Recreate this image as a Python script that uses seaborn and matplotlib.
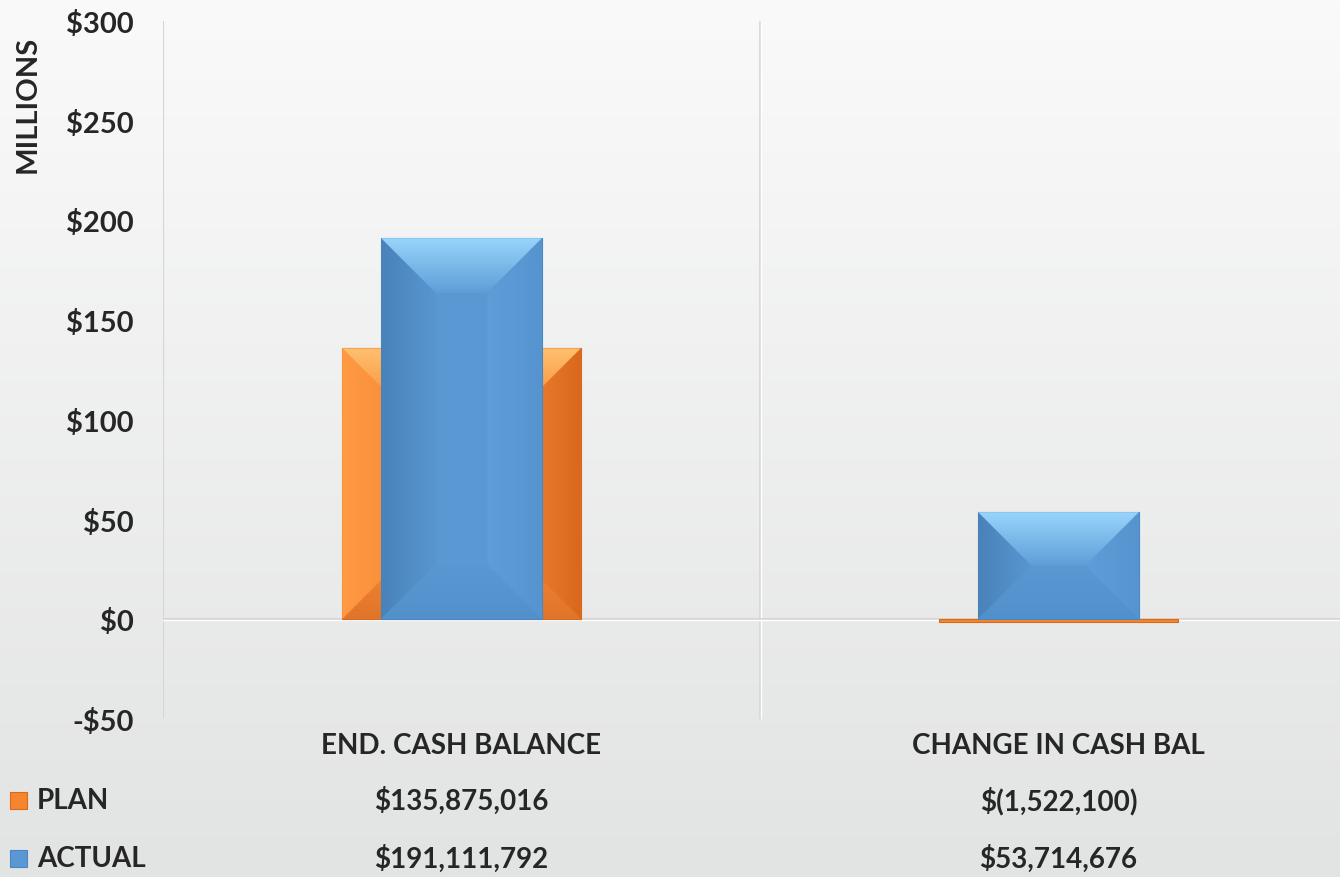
import matplotlib
matplotlib.use("Agg")
import matplotlib.pyplot as plt
import seaborn as sns
import numpy as np
import pandas as pd
from matplotlib.patches import Polygon, Rectangle
from matplotlib.colors import LinearSegmentedColormap
from matplotlib.ticker import FuncFormatter, MultipleLocator
import matplotlib.transforms as mtransforms

categories = ["END. CASH BALANCE", "CHANGE IN CASH BAL"]
plan = [135875016, -1522100]
actual = [191111792, 53714676]
series_names = ["PLAN", "ACTUAL"]

orange = "#F5862F"
blue = "#5A98D3"

sns.set_theme(style="white")
plt.rcParams["font.family"] = ["Lato", "DejaVu Sans"]
plt.rcParams["font.weight"] = "bold"

fig = plt.figure(figsize=(13.4, 8.78), dpi=100)

# background gradient
bg = fig.add_axes([0, 0, 1, 1], zorder=-10)
grad = np.linspace(0, 1, 256).reshape(-1, 1)
bg.imshow(grad, aspect="auto", cmap=LinearSegmentedColormap.from_list(
    "bg", ["#fafafa", "#e2e3e3"]), extent=[0, 1, 0, 1], origin="upper")
bg.axis("off")

ax = fig.add_axes([163 / 1340, 1 - 720 / 878, 1 - 163 / 1340, 698 / 878])
ax.patch.set_alpha(0)

df = pd.DataFrame({"cat": categories,
                   "plan": np.array(plan) / 1e6,
                   "actual": np.array(actual) / 1e6})

sns.barplot(data=df, x="cat", y="plan", color=orange, width=0.40, ax=ax,
            saturation=1, zorder=2)
n_plan = len(ax.patches)
sns.barplot(data=df, x="cat", y="actual", color=blue, width=0.27, ax=ax,
            saturation=1, zorder=3)

ylim = (-50, 300)
xlim = (-0.5, -0.5 + (1340 - 163) / 597)
ax.set_ylim(*ylim)
ax.set_xlim(*xlim)
ax.yaxis.set_major_locator(MultipleLocator(50))
ax.yaxis.set_major_formatter(FuncFormatter(
    lambda v, p: f"-${-v:,.0f}" if v < 0 else f"${v:,.0f}"))
ax.tick_params(axis="y", labelsize=21, pad=21, length=0)
for t in ax.get_yticklabels():
    t.set_fontweight("bold")
ax.set_xticks([])
ax.set_xlabel("")
ax.set_ylabel("")
for s in ax.spines.values():
    s.set_visible(False)

# gridlines: left axis, category separator, zero line
ax.axvline(-0.5, color="#d6d6d6", lw=1.6, zorder=1)
ax.axvline(0.5, color="#d6d6d6", lw=1.2, zorder=1)
ax.axvline(0.5 + 0.002, color="white", lw=1.0, zorder=1)
ax.axhline(0, color="#d2d2d2", lw=1.2, zorder=1)
ax.axhline(-0.6, color="white", lw=1.0, zorder=1)

fig.text(28 / 1340, 1 - 104 / 878, "MILLIONS", rotation=90, ha="center", va="center",
         fontsize=21, fontweight="bold")

# bevel effect on each bar (gradient faces clipped to trapezoids)
fig.canvas.draw()
inv = ax.transData.inverted()
shades = {
    orange: dict(top=("#FFC070", "#F8903A"), left=("#FF9A45", "#F98C36"),
                 right=("#D9681C", "#EE8030"), bottom=("#E0742A", "#F28633"), edge="#D86A1C"),
    blue: dict(top=("#98D4FA", "#5E9ED8"), left=("#4A82BA", "#5896D0"),
               right=("#5594CF", "#5E9DD8"), bottom=("#5290CB", "#5A98D3"), edge="#4A86C4"),
}
hgrad = np.linspace(0, 1, 128).reshape(1, -1)
vgrad = np.linspace(0, 1, 128).reshape(-1, 1)
for i, p in enumerate(ax.patches[:]):
    col = orange if i < n_plan else blue
    z = 2.1 if i < n_plan else 3.1
    x0, y0 = p.get_x(), p.get_y()
    w, h = p.get_width(), p.get_height()
    (L, B), (R, T) = ax.transData.transform([(x0, min(y0, y0 + h)), (x0 + w, max(y0, y0 + h))])
    hp, wp = T - B, R - L
    p.set_edgecolor(shades[col]["edge"])
    p.set_linewidth(0.8)
    if hp < 6:
        continue
    b = min(55, wp / 2, hp / 2)
    faces = {
        "top": ([(L, T), (R, T), (R - b, T - b), (L + b, T - b)], (L, R, T - b, T), vgrad, False),
        "left": ([(L, T), (L + b, T - b), (L + b, B + b), (L, B)], (L, L + b, B, T), hgrad, False),
        "right": ([(R, T), (R, B), (R - b, B + b), (R - b, T - b)], (R - b, R, B, T), hgrad, True),
        "bottom": ([(L, B), (R, B), (R - b, B + b), (L + b, B + b)], (L, R, B, B + b), vgrad, True),
    }
    for k, (pts, (ex0, ex1, ey0, ey1), g, flip) in faces.items():
        c_edge, c_inner = shades[col][k]
        poly = Polygon(inv.transform(pts), closed=True, facecolor="none",
                       edgecolor="none", zorder=z)
        ax.add_patch(poly)
        (dx0, dy0), (dx1, dy1) = inv.transform([(ex0, ey0), (ex1, ey1)])
        cmap = LinearSegmentedColormap.from_list("f", [c_inner, c_edge] if flip else [c_edge, c_inner])
        im = ax.imshow(g, cmap=cmap, extent=[dx0, dx1, dy0, dy1], origin="upper",
                       aspect="auto", zorder=z, interpolation="bilinear")
        im.set_clip_path(poly)

ax.set_xlim(*xlim)
ax.set_ylim(*ylim)

# data table below the chart
tr = mtransforms.blended_transform_factory(ax.transData, fig.transFigure)


def money(v):
    return f"$({-v:,.0f})" if v < 0 else f"${v:,.0f}"


row_y = [1 - 801 / 878, 1 - 859 / 878]
for j, cat in enumerate(categories):
    ax.text(j, 1 - 746 / 878, cat, transform=tr, ha="center", va="center",
            fontsize=20, fontweight="bold", clip_on=False)
    ax.text(j, row_y[0], money(plan[j]), transform=tr, ha="center", va="center",
            fontsize=20, fontweight="bold", clip_on=False)
    ax.text(j, row_y[1], money(actual[j]), transform=tr, ha="center", va="center",
            fontsize=20, fontweight="bold", clip_on=False)

for name, col, y in zip(series_names, [orange, blue], row_y):
    fig.patches.append(Rectangle((10 / 1340, y - 9 / 878), 17 / 1340, 17 / 878,
                                 transform=fig.transFigure, facecolor=col,
                                 edgecolor=shades[col]["edge"], lw=0.8))
    fig.text(37 / 1340, y, name, ha="left", va="center", fontsize=20, fontweight="bold")

fig.savefig("out.png", dpi=100)
plt.close(fig)
